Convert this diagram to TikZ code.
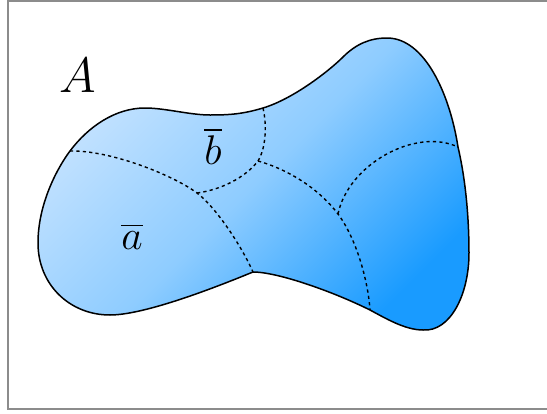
\documentclass[tikz,border=0pt]{standalone}
\usepackage{amsmath,amssymb}
\usepackage{tikz}

\definecolor{blobLight}{RGB}{200,228,255}
\definecolor{blobMid}{RGB}{142,204,255}
\definecolor{blobDark}{RGB}{25,155,255}

\begin{document}
\begin{tikzpicture}[
  x=0.5pt, y=-0.5pt,
  blob/.style={draw, line width=0.75pt, top color=blobLight,
               bottom color=blobDark, middle color=blobMid,
               shading angle=45},
  cut/.style={line width=0.7pt, dash pattern=on 1.6pt off 1.6pt},
  frame/.style={draw=black!45, line width=0.8pt},
  setlbl/.style={font=\Huge, inner sep=0pt},
  partlbl/.style={font=\huge, inner sep=0pt}
]
  \useasboundingbox (0,0) rectangle (547,413);
  \draw[frame] (8,1) rectangle (560,409);

  % points on the border
  \coordinate (lf)  at (38,243);
  \coordinate (tl)  at (70,151);
  \coordinate (hump) at (145,108);
  \coordinate (sag) at (210,115);
  \coordinate (tm)  at (263,108);
  \coordinate (nk)  at (343,57);
  \coordinate (top) at (387,38);
  \coordinate (rt)  at (458,147);
  \coordinate (rx)  at (469,253);
  \coordinate (bt)  at (423,330);
  \coordinate (br)  at (370,310);
  \coordinate (dip) at (253,272);
  \coordinate (bl)  at (110,315);
  % inner junctions
  \coordinate (j1) at (197,193);
  \coordinate (j2) at (258,161);
  \coordinate (j3) at (338,214);

  \path[blob] (lf) .. controls (38,203) and (58,167) .. (tl)
    .. controls (88,127) and (115,108) .. (hump)
    .. controls (165,108) and (190,115) .. (sag)
    .. controls (230,115) and (243,114) .. (tm)
    .. controls (293,99) and (329,71) .. (nk)
    .. controls (356,44) and (370,38) .. (top)
    .. controls (425,38) and (450,95) .. (rt)
    .. controls (466,181) and (469,220) .. (rx)
    .. controls (469,295) and (450,332) .. (bt)
    .. controls (405,330) and (385,318) .. (br)
    .. controls (334,292) and (278,272) .. (dip)
    .. controls (238,278) and (150,315) .. (bl)
    .. controls (70,315) and (38,285) .. (lf) -- cycle;

  \draw[cut] (tl) .. controls (110,150) and (173,175) .. (j1)
    .. controls (217,208) and (243,249) .. (dip);
  \draw[cut] (tm) .. controls (267,125) and (266,148) .. (j2)
    .. controls (245,178) and (220,190) .. (j1);
  \draw[cut] (j2) .. controls (290,170) and (320,190) .. (j3)
    .. controls (356,238) and (368,280) .. (br);
  \draw[cut] (j3) .. controls (348,165) and (415,127) .. (rt);

  \node[setlbl]  (A)  at (78,75)   {$A$};
  \node[partlbl] (bb) at (213,146) {$\overline{b}$};
  \node[partlbl] (ab) at (132,236) {$\overline{a}$};
\end{tikzpicture}
\end{document}
